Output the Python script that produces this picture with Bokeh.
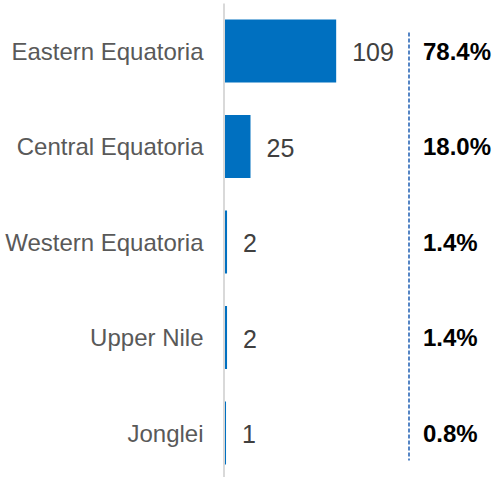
from bokeh.plotting import figure
from bokeh.models import Range1d, ColumnDataSource
from bokeh.core.properties import value
from bokeh.embed import file_html
from bokeh.resources import INLINE

categories = ["Eastern Equatoria", "Central Equatoria", "Western Equatoria", "Upper Nile", "Jonglei"]
counts = [109, 25, 2, 2, 1]
percents = ["78.4%", "18.0%", "1.4%", "1.4%", "0.8%"]

n = len(categories)
ypos = [n - 1 - i for i in range(n)]

src = ColumnDataSource(dict(
    cat=categories,
    cnt=counts,
    pct=percents,
    y=ypos,
    zero=[0] * n,
))

W, H = 497, 477
px_per_unit = 1.02
x0_px = 224.5
y_pitch = 95.5
top = (n - 1) + 50.5 / y_pitch
bottom = top - H / y_pitch

p = figure(
    width=W, height=H, output_backend="svg", toolbar_location=None,
    x_range=Range1d(-x0_px / px_per_unit, (W - x0_px) / px_per_unit),
    y_range=Range1d(bottom, top),
    min_border=0, outline_line_color=None,
)
p.xaxis.visible = False
p.yaxis.visible = False
p.grid.visible = False
p.background_fill_color = "white"
p.border_fill_color = "white"

# axis line
p.segment(x0=[-1.0 / px_per_unit], x1=[-1.0 / px_per_unit],
          y0=[top - 3 / y_pitch], y1=[bottom - 1],
          line_color="#d9d9d9", line_width=2)

p.hbar(y="y", left="zero", right="cnt", height=0.66, source=src,
       fill_color="#0070c0", line_color=None)

p.text(x="zero", y="y", text="cat", source=src, x_offset=-21.5,
       text_align="right", text_baseline="middle",
       text_font=value("Liberation Sans"), text_font_size="24px",
       text_color="#595959")

p.text(x="cnt", y="y", text="cnt", source=src, x_offset=16, y_offset=1,
       text_align="left", text_baseline="middle",
       text_font=value("Liberation Sans"), text_font_size="25px",
       text_color="#404040")

dash_x = (408.5 - x0_px) / px_per_unit
p.segment(x0=[dash_x], x1=[dash_x], y0=[top - 32 / y_pitch], y1=[top - 460 / y_pitch],
          line_color="#5585c5", line_width=2, line_dash="4 2")

pct_x = (422.5 - x0_px) / px_per_unit
p.text(x=pct_x, y="y", text="pct", source=src,
       text_align="left", text_baseline="middle",
       text_font=value("Liberation Sans"), text_font_size="24px",
       text_font_style="bold", text_color="#000000")

open("out.html", "w").write(file_html(p, INLINE))
